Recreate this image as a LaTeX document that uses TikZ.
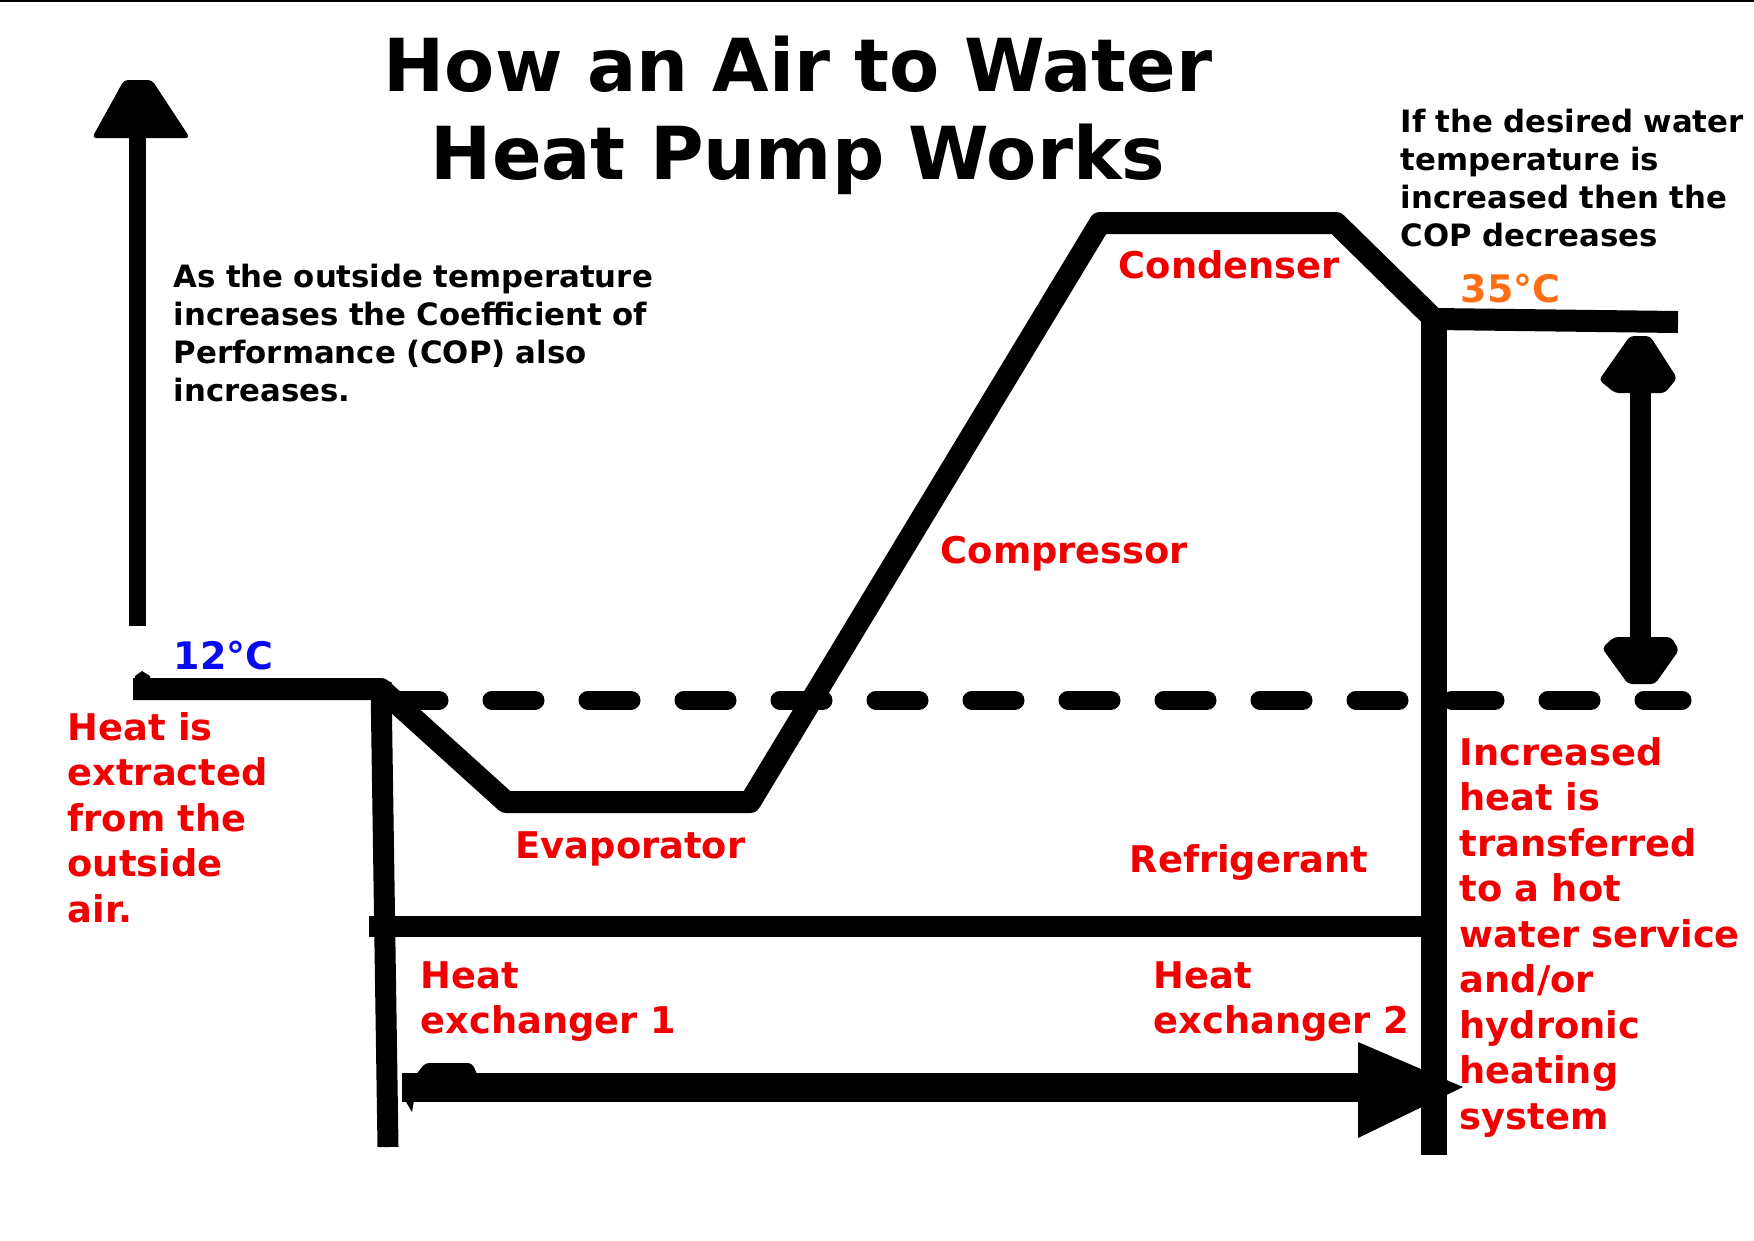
\documentclass[tikz,border=0pt]{standalone}
\usepackage{fontspec}
\setmainfont{DejaVu Sans}
\definecolor{lblred}{RGB}{240,0,0}
\definecolor{lblblue}{RGB}{10,10,240}
\definecolor{lblorange}{RGB}{255,110,20}
\tikzset{
  pipe/.style={line width=2.2mm, line join=round, draw=black},
  headfill/.style={fill=black, rounded corners=0.4mm},
  titletext/.style={font=\bfseries\fontsize{20.8}{25.3}\selectfont, align=center, text width=120mm, anchor=base, inner sep=0pt},
  notetext/.style={font=\bfseries\fontsize{8.76}{10.85}\selectfont, align=left, text width=60mm, anchor=base west, inner sep=0pt},
  lbl/.style={font=\bfseries\fontsize{10.47}{12.95}\selectfont, text=lblred, anchor=base west, inner sep=0pt},
  lblblock/.style={lbl, align=left, text width=45mm},
  temptext/.style={font=\bfseries\fontsize{10.8}{13}\selectfont, anchor=base west, inner sep=0pt},
}
\begin{document}
\begin{tikzpicture}[x=0.1mm,y=-0.1mm]
\path[use as bounding box, fill=white] (0,0) rectangle (1754,1240);
% top border
\draw[line width=0.2mm] (0,1) -- (1754,1);

% key points of the refrigerant path
\coordinate (hstart) at (133,689);
\coordinate (c1) at (381,689);
\coordinate (ev1) at (506,802);
\coordinate (ev2) at (750,802);
\coordinate (cd1) at (1100,223);
\coordinate (cd2) at (1336,223);
\coordinate (cd3) at (1434,319);
\coordinate (wend) at (1678,322);
\coordinate (lbot) at (388,1147);
\coordinate (rbot) at (1434,1155);
\coordinate (sepL) at (369,926);
\coordinate (sepR) at (1447,926);
\coordinate (dashL) at (396,700);
\coordinate (dashR) at (1682,700);

% dashed reference line
\draw[line width=1.9mm, line cap=round, dash pattern=on 4.3mm off 5.3mm] (dashL) -- (dashR);

% refrigerant cycle
\draw[pipe] (hstart) -- (c1) -- (ev1) -- (ev2) -- (cd1) -- (cd2) -- (cd3) -- (wend);
\draw[pipe, line width=2.1mm] (381,682) -- (lbot);
\draw[pipe, line width=2.6mm] (cd3) -- (rbot);
\draw[pipe, line width=2.1mm] (sepL) -- (sepR);
% small bump at the start of the 12C line
\fill (133,698) -- (135,676) -- (142,671) -- (150,676) -- (150,698) -- cycle;

% left vertical arrow
\coordinate (laBot) at (137,626);
\coordinate (laTop) at (137,130);
\draw[line width=1.7mm] (laBot) -- (laTop);
\fill[headfill] (92,138) -- (124,80) -- (152,80) -- (190,138) -- cycle;

% right double arrow
\coordinate (daTop) at (1640,375);
\coordinate (daBot) at (1640,645);
\draw[line width=2.1mm] (daTop) -- (daBot);
\fill[headfill] (1599,380) -- (1630,336) -- (1650,336) -- (1677,378) -- (1665,393) -- (1615,393) -- cycle;
\fill[headfill] (1602,648) -- (1614,637) -- (1671,637) -- (1679,650) -- (1655,684) -- (1628,684) -- cycle;

% bottom heat-flow arrow
\coordinate (baL) at (402,1087);
\coordinate (baR) at (1365,1087);
\draw[line width=2.9mm] (baL) -- (baR);
\fill (1358,1042) -- (1463,1087) -- (1358,1138) -- cycle;
\fill[headfill] (415,1076) -- (425,1063) -- (472,1063) -- (478,1076) -- cycle;
\fill (402,1095) -- (412,1112) -- (415,1095) -- cycle;

% texts
\node[titletext] (title) at (798,91) {How an Air to Water\\Heat Pump Works};
\node[notetext] (outside) at (173,287) {As the outside temperature\\increases the Coefficient of\\Performance (COP) also\\increases.};
\node[notetext] (desired) at (1400,132) {If the desired water\\temperature is\\increased then the\\COP decreases};
\node[lbl] (cond) at (1118,278) {Condenser};
\node[lbl] (comp) at (940,563) {Compressor};
\node[lbl] (evap) at (515,858) {Evaporator};
\node[lbl] (refr) at (1129,872) {Refrigerant};
\node[lblblock] (hx1) at (420,988) {Heat\\exchanger 1};
\node[lblblock] (hx2) at (1153,988) {Heat\\exchanger 2};
\node[lblblock] (extract) at (67,740) {Heat is\\extracted\\from the\\outside\\air.};
\node[lblblock] (incr) at (1459,765) {Increased\\heat is\\transferred\\to a hot\\water service\\and/or\\hydronic\\heating\\system};
\node[temptext, text=lblblue] (t12) at (173,669) {12°C};
\node[temptext, text=lblorange] (t35) at (1460,302) {35°C};
\end{tikzpicture}
\end{document}
